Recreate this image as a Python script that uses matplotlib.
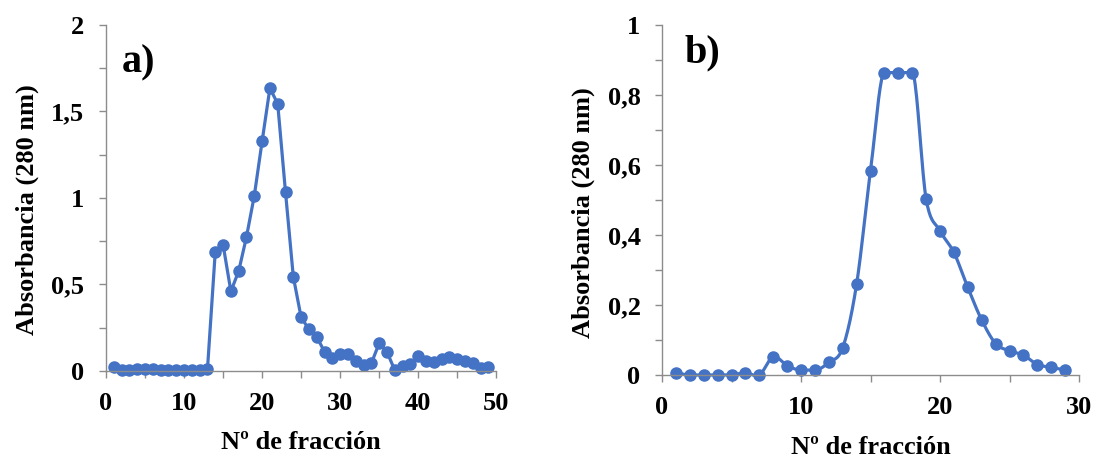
import numpy as np
import matplotlib
matplotlib.use("Agg")
import matplotlib.pyplot as plt
from matplotlib.ticker import MultipleLocator, FuncFormatter

plt.rcParams['font.family'] = ['Liberation Serif', 'DejaVu Serif']
plt.rcParams['font.weight'] = 'bold'

# Absorbance profiles (280 nm) per fraction
frac_a = np.arange(1, 50)
abs_a = [0.02, 0.006, 0.006, 0.01, 0.01, 0.01, 0.006, 0.006, 0.006, 0.004,
         0.006, 0.006, 0.01, 0.69, 0.73, 0.46, 0.577, 0.775, 1.013, 1.327,
         1.635, 1.544, 1.033, 0.544, 0.31, 0.24, 0.198, 0.11, 0.073, 0.096,
         0.096, 0.06, 0.035, 0.044, 0.16, 0.11, 0.004, 0.03, 0.04, 0.087,
         0.06, 0.054, 0.071, 0.083, 0.071, 0.058, 0.048, 0.015, 0.02]

frac_b = np.arange(1, 30)
abs_b = [0.007, 0.0, 0.0, 0.0, 0.0, 0.007, 0.0, 0.052, 0.027, 0.014,
         0.014, 0.036, 0.078, 0.26, 0.584, 0.864, 0.864, 0.864, 0.503, 0.412,
         0.35, 0.25, 0.157, 0.09, 0.069, 0.057, 0.03, 0.022, 0.014]

BLUE = '#4472C4'
GREY = '#8c8c8c'
FS = 19


def smooth(x, y, n=20):
    # cubic Bezier through the points; tangents from neighbours,
    # flattened where the curve reaches a plateau
    p = np.column_stack([x, y]).astype(float)
    ext = np.vstack([p[0], p, p[-1]])
    tang = (ext[2:] - ext[:-2]) / 6
    for i in range(1, len(p) - 1):
        if (p[i, 1] - p[i - 1, 1]) * (p[i + 1, 1] - p[i, 1]) == 0:
            tang[i, 1] = 0
    t = np.linspace(0, 1, n)[:, None]
    out = []
    for i in range(len(p) - 1):
        p0, p3 = p[i], p[i + 1]
        c1 = p0 + tang[i]
        c2 = p3 - tang[i + 1]
        seg = ((1 - t) ** 3) * p0 + 3 * ((1 - t) ** 2) * t * c1 + 3 * (1 - t) * t ** 2 * c2 + t ** 3 * p3
        out.append(seg)
    out = np.vstack(out)
    return out[:, 0], out[:, 1]


def comma(v, pos):
    return f'{v:g}'.replace('.', ',')


def style(ax, xmax, ymax, ymaj, ymin_step):
    ax.set_xlim(0, xmax)
    ax.set_ylim(0, ymax)
    for s in ('top', 'right'):
        ax.spines[s].set_visible(False)
    for s in ('left', 'bottom'):
        ax.spines[s].set_color(GREY)
        ax.spines[s].set_linewidth(1.0)
    ax.xaxis.set_major_locator(MultipleLocator(10))
    ax.xaxis.set_minor_locator(MultipleLocator(5))
    ax.yaxis.set_major_locator(MultipleLocator(ymaj))
    ax.yaxis.set_minor_locator(MultipleLocator(ymin_step))
    ax.yaxis.set_major_formatter(FuncFormatter(comma))
    ax.tick_params(which='both', color=GREY, length=5, width=1.0, direction='out')
    ax.tick_params(axis='y', which='major', pad=10.5, labelsize=FS)
    ax.tick_params(axis='x', which='major', pad=10, labelsize=FS)
    for lab in ax.get_xticklabels() + ax.get_yticklabels():
        lab.set_fontweight('bold')
    ax.set_xlabel('Nº de fracción', fontsize=FS, fontweight='bold', labelpad=12)
    ax.set_ylabel('Absorbancia (280 nm)', fontsize=FS, fontweight='bold', labelpad=9)
    ax.yaxis.label.set_y(0.465)


fig = plt.figure(figsize=(10.93, 4.54), dpi=100)

ax1 = fig.add_axes([0.097, 0.183, 0.357, 0.762])
ax1.plot(frac_a, abs_a, color=BLUE, lw=2.3, marker='o', ms=8, clip_on=False)
style(ax1, 50, 2, 0.5, 0.25)
ax1.text(0.04, 0.89, 'a)', transform=ax1.transAxes, fontsize=29,
         fontweight='bold', va='center', ha='left')

ax2 = fig.add_axes([0.6057, 0.174, 0.3815, 0.771])
sx, sy = smooth(frac_b, abs_b)
ax2.plot(sx, sy, color=BLUE, lw=2.3, clip_on=False)
ax2.plot(frac_b, abs_b, ls='none', color=BLUE, marker='o', ms=8, clip_on=False)
style(ax2, 30, 1, 0.2, 0.1)
ax2.text(0.055, 0.92, 'b)', transform=ax2.transAxes, fontsize=29,
         fontweight='bold', va='center', ha='left')

fig.savefig('out.png', dpi=100)
